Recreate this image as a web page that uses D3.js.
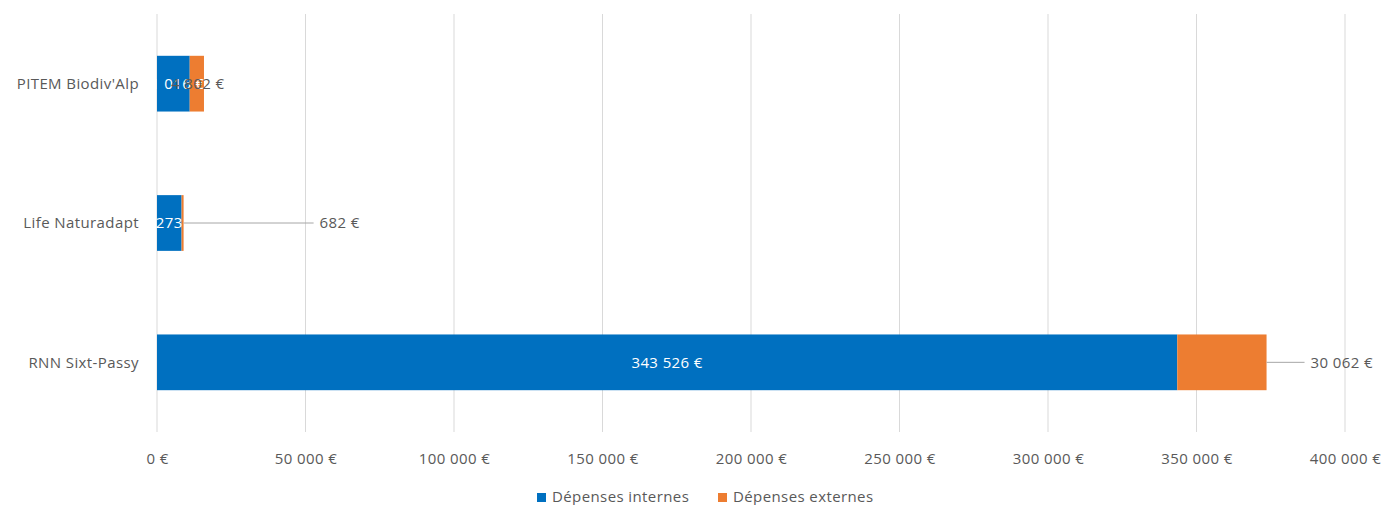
<!DOCTYPE html>
<html lang="fr">
<head>
    <meta charset="UTF-8">
    <title>Dépenses par projet</title>
    <script src="https://cdn.jsdelivr.net/npm/d3@7"></script>
    <style>
        body { margin: 0; background: #fff; }
        text { font-family: "Open Sans", "Noto Sans", sans-serif; fill: #595959; font-size: 15px; letter-spacing: 0.4px; }
    </style>
</head>
<body>
<script>
    var width = 1385
    var height = 505

    // données
    var categories = ['PITEM Biodiv\'Alp', 'Life Naturadapt', 'RNN Sixt-Passy']
    var internes = [11016, 8273, 343526]
    var externes = [4802, 682, 30062]
    var seriesNames = ['Dépenses internes', 'Dépenses externes']
    var seriesColors = ['#0070c0', '#ed7d31']
    var xTicks = [0, 50000, 100000, 150000, 200000, 250000, 300000, 350000, 400000]

    var fr = d3.formatLocale({decimal: ',', thousands: '\u00a0', grouping: [3], currency: ['', '\u00a0€']})
    var fmt = fr.format('$,.0f')

    var svg = d3.select('body')
        .append('svg')
        .attr('width', width)
        .attr('height', height)

    var x = d3.scaleLinear().domain([0, 400000]).range([157, 1345])
    var y = d3.scaleBand().domain(categories).range([14, 432]).paddingInner(0.6).paddingOuter(0.3)

    // grille
    svg.append('g')
        .selectAll('line')
        .data(xTicks)
        .enter()
        .append('line')
        .attr('x1', function (d) { return x(d) })
        .attr('x2', function (d) { return x(d) })
        .attr('y1', 14)
        .attr('y2', 432)
        .attr('stroke', '#d9d9d9')
        .attr('stroke-width', 1)

    // axe x
    var xAxis = svg.append('g')
        .attr('transform', 'translate(0,432)')
        .call(d3.axisBottom(x).tickValues(xTicks).tickFormat(fmt).tickSize(0).tickPadding(21))
    xAxis.select('.domain').remove()
    xAxis.selectAll('text').style('font-size', '15px').attr('fill', '#595959')

    // étiquettes des catégories
    svg.append('g')
        .selectAll('text')
        .data(categories)
        .enter()
        .append('text')
        .attr('x', 139)
        .attr('y', function (d) { return y(d) + y.bandwidth() / 2 })
        .attr('dy', '0.35em')
        .attr('text-anchor', 'end')
        .text(function (d) { return d })

    var rows = categories.map(function (c, i) {
        return {cat: c, a: internes[i], b: externes[i]}
    })

    // barres
    var g = svg.append('g')
    g.selectAll('.int')
        .data(rows)
        .enter()
        .append('rect')
        .attr('x', x(0))
        .attr('y', function (d) { return y(d.cat) })
        .attr('width', function (d) { return x(d.a) - x(0) })
        .attr('height', y.bandwidth())
        .attr('fill', seriesColors[0])
    g.selectAll('.ext')
        .data(rows)
        .enter()
        .append('rect')
        .attr('x', function (d) { return x(d.a) })
        .attr('y', function (d) { return y(d.cat) })
        .attr('width', function (d) { return x(d.a + d.b) - x(d.a) })
        .attr('height', y.bandwidth())
        .attr('fill', seriesColors[1])

    // étiquettes internes (blanches, au centre)
    g.selectAll('.lblInt')
        .data(rows)
        .enter()
        .append('text')
        .attr('x', function (d) { return (x(0) + x(d.a)) / 2 })
        .attr('y', function (d) { return y(d.cat) + y.bandwidth() / 2 })
        .attr('dy', '0.35em')
        .attr('text-anchor', 'middle')
        .style('fill', '#fff')
        .text(function (d) { return fmt(d.a) })

    // étiquettes externes
    var calloutOffset = [0, 130, 38]
    rows.forEach(function (d, i) {
        var cy = y(d.cat) + y.bandwidth() / 2
        var xEnd = x(d.a + d.b)
        if (calloutOffset[i] === 0) {
            g.append('text')
                .attr('x', (x(d.a) + xEnd) / 2 + 1)
                .attr('y', cy)
                .attr('dy', '0.35em')
                .attr('text-anchor', 'middle')
                .text(fmt(d.b))
        } else {
            g.append('line')
                .attr('x1', xEnd)
                .attr('x2', xEnd + calloutOffset[i])
                .attr('y1', cy)
                .attr('y2', cy)
                .attr('stroke', '#a6a6a6')
                .attr('stroke-width', 1)
            g.append('text')
                .attr('x', xEnd + calloutOffset[i] + 6)
                .attr('y', cy)
                .attr('dy', '0.35em')
                .text(fmt(d.b))
        }
    })

    // légende
    var legendX = [537, 718]
    var legend = svg.append('g')
        .selectAll('g')
        .data(seriesNames)
        .enter()
        .append('g')
        .attr('transform', function (d, i) { return 'translate(' + legendX[i] + ',497)' })
    legend.append('rect')
        .attr('x', 0)
        .attr('y', -4)
        .attr('width', 9)
        .attr('height', 9)
        .attr('fill', function (d, i) { return seriesColors[i] })
    legend.append('text')
        .attr('x', 15)
        .attr('y', 0)
        .attr('dy', '0.35em')
        .text(function (d) { return d })
</script>
</body>
</html>
